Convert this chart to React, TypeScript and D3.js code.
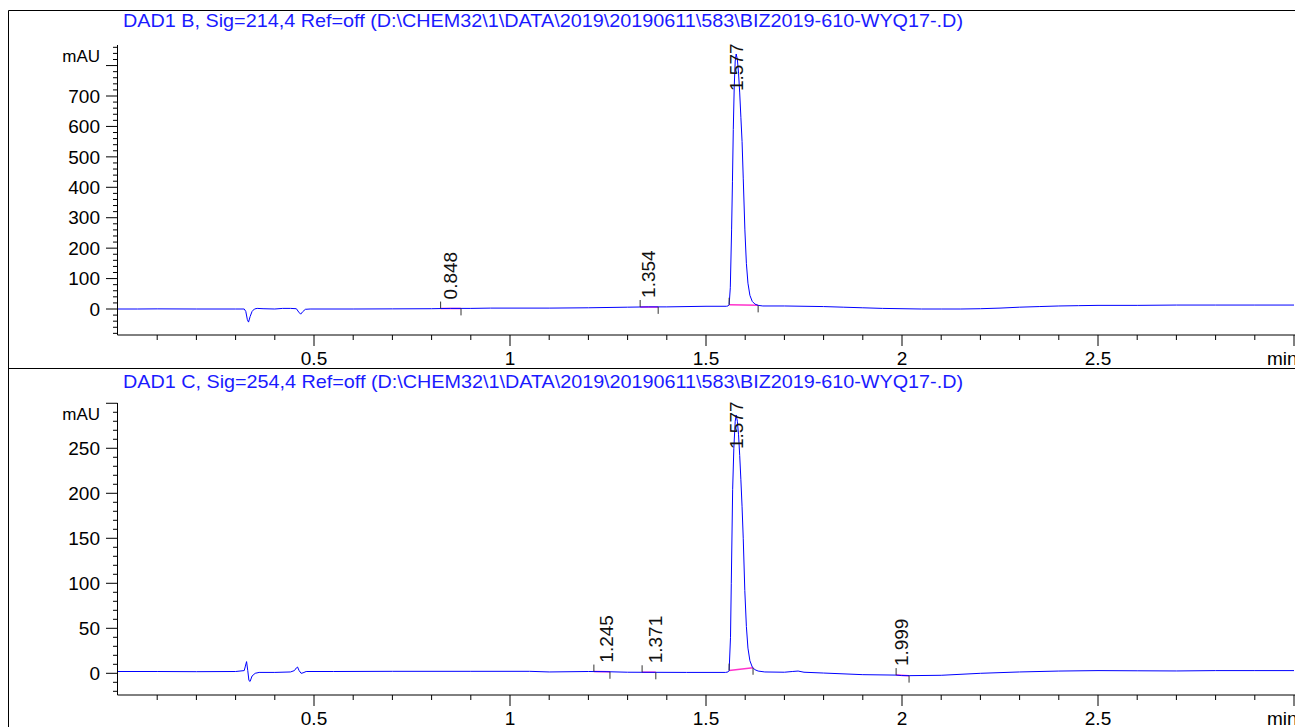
import React from "react";
import * as d3 from "d3";

// ---- data ----
const topTitle = "DAD1 B, Sig=214,4 Ref=off (D:\\CHEM32\\1\\DATA\\2019\\20190611\\583\\BIZ2019-610-WYQ17-.D)";
const bottomTitle = "DAD1 C, Sig=254,4 Ref=off (D:\\CHEM32\\1\\DATA\\2019\\20190611\\583\\BIZ2019-610-WYQ17-.D)";

const xTickLabels = [0.5, 1, 1.5, 2, 2.5];

const topYLabels = [0, 100, 200, 300, 400, 500, 600, 700];
const bottomYLabels = [0, 50, 100, 150, 200, 250];

// signal 214 nm: [time (min), mAU]
const topSignal: [number, number][] = [
  [0, 0], [0.05, 0], [0.1, 0.5], [0.2, 0], [0.3, 0], [0.322, 0], [0.326, -8], [0.33, -35], [0.333, -43],
  [0.337, -25], [0.342, -8], [0.348, 0], [0.355, 2], [0.37, 1], [0.4, 0], [0.42, 2], [0.44, 2], [0.455, 1],
  [0.461, -10], [0.466, -17], [0.471, -9], [0.478, -1], [0.49, 0], [0.6, 0], [0.7, 0.5], [0.8, 1], [0.848, 2],
  [0.9, 2], [0.95, 3], [1.0, 3], [1.1, 3], [1.2, 4], [1.3, 6], [1.354, 7], [1.4, 7], [1.5, 9], [1.552, 9],
  [1.556, 10], [1.559, 14], [1.562, 70], [1.5653, 260], [1.5675, 420], [1.5696, 590], [1.572, 730],
  [1.5745, 815], [1.577, 838], [1.58, 820], [1.583, 775], [1.586, 710], [1.589, 630], [1.592, 550],
  [1.595, 430], [1.5992, 260], [1.603, 150], [1.607, 85], [1.612, 45], [1.618, 25], [1.625, 16], [1.633, 12],
  [1.645, 10], [1.7, 10], [1.75, 9], [1.8, 8], [1.85, 6], [1.9, 4], [1.95, 2], [2.0, 1], [2.05, 0], [2.1, 0],
  [2.15, 0], [2.2, 1], [2.25, 3], [2.3, 6], [2.35, 8], [2.4, 10], [2.45, 11], [2.5, 12], [2.6, 12], [2.7, 13],
  [2.8, 13], [2.9, 13], [3.0, 13],
];

// signal 254 nm: [time (min), mAU]
const bottomSignal: [number, number][] = [
  [0, 2], [0.1, 2], [0.2, 1.8], [0.3, 2], [0.322, 3], [0.325, 8], [0.328, 13], [0.331, 3], [0.334, -8],
  [0.337, -9], [0.342, -3], [0.35, 0], [0.36, 1], [0.4, 1], [0.44, 1.5], [0.45, 3], [0.455, 6], [0.458, 7],
  [0.462, 3], [0.467, 0], [0.472, 0.5], [0.48, 2], [0.55, 2], [0.7, 2.2], [0.9, 2.2], [1.05, 2.2], [1.1, 1.5],
  [1.2, 2], [1.245, 1.8], [1.3, 1.2], [1.371, 1.1], [1.45, 1], [1.55, 1], [1.556, 1.5], [1.559, 3],
  [1.5625, 40], [1.5645, 100], [1.568, 204], [1.571, 250], [1.5745, 280], [1.577, 287], [1.58, 280],
  [1.583, 265], [1.586, 242], [1.589, 215], [1.592, 185], [1.595, 150], [1.599, 92], [1.603, 52],
  [1.607, 28], [1.612, 14], [1.618, 7], [1.625, 4], [1.633, 2.5], [1.65, 1.5], [1.7, 1.2], [1.72, 2],
  [1.735, 2.5], [1.75, 1.2], [1.8, 0.3], [1.9, -1.5], [1.985, -2], [1.999, -2.5], [2.02, -2.6], [2.1, -2.2],
  [2.2, 0], [2.3, 1.5], [2.4, 2.5], [2.5, 3], [2.6, 2.8], [2.7, 2.6], [2.8, 3], [2.9, 3], [3.0, 3],
];

// integrated peaks: retention time, baseline start, baseline end
const topPeakRT = [0.848, 1.354, 1.577];
const topPeakStart = [0.823, 1.332, 1.559];
const topPeakEnd = [0.875, 1.378, 1.633];

const bottomPeakRT = [1.245, 1.371, 1.577, 1.999];
const bottomPeakStart = [1.214, 1.337, 1.559, 1.985];
const bottomPeakEnd = [1.255, 1.372, 1.62, 2.018];

const FONT = "'Liberation Sans', Arial, sans-serif";
const W = 1295;
const H = 727;

type PanelProps = {
  title: string;
  signal: [number, number][];
  yDomain: [number, number];
  yRange: [number, number];
  yLabels: number[];
  yMajor: number;
  yMinor: number;
  rts: number[];
  starts: number[];
  ends: number[];
  titleY: number;
};

function Panel(p: PanelProps) {
  const x = d3.scaleLinear().domain([0, 3]).range([118, 1294]);
  const y = d3.scaleLinear().domain(p.yDomain).range(p.yRange);
  const axisX = 117.5;
  const axisY = p.yRange[0];
  const top = p.yRange[1];

  const line = d3
    .line<[number, number]>()
    .x((d) => x(d[0]))
    .y((d) => y(d[1]));

  const bis = d3.bisector((d: [number, number]) => d[0]).left;
  const valueAt = (t: number) => {
    const i = Math.max(1, Math.min(p.signal.length - 1, bis(p.signal, t)));
    const a = p.signal[i - 1];
    const b = p.signal[i];
    const k = (t - a[0]) / (b[0] - a[0]);
    return a[1] + (b[1] - a[1]) * k;
  };
  const peakMax = (s: number, e: number) => {
    let m = -Infinity;
    for (const d of p.signal) if (d[0] >= s && d[0] <= e) m = Math.max(m, d[1]);
    return m;
  };

  const yMinorTicks: number[] = [];
  const lo = Math.ceil(p.yDomain[0] / p.yMinor) * p.yMinor;
  for (let v = lo; v <= p.yDomain[1] + 1e-9; v += p.yMinor) yMinorTicks.push(Math.round(v * 1000) / 1000);
  const xTicks = d3.range(1, 31).map((i) => i / 10);

  const labelLen = 46;

  return (
    <g>
      <text x={123} y={p.titleY} fill="#1a1aff" fontSize={19} fontFamily={FONT} textLength={840} lengthAdjust="spacingAndGlyphs">
        {p.title}
      </text>
      {/* y axis */}
      <line x1={axisX} x2={axisX} y1={top} y2={axisY} stroke="#000" strokeWidth={1} />
      {yMinorTicks.map((v) => {
        const major = Math.abs(v / p.yMajor - Math.round(v / p.yMajor)) < 1e-6;
        return (
          <line key={"yt" + v} x1={major ? 106 : 113} x2={axisX} y1={y(v)} y2={y(v)} stroke="#000" strokeWidth={1} />
        );
      })}
      {p.yLabels.map((v) => (
        <text key={"yl" + v} x={100} y={y(v)} dy="0.35em" textAnchor="end" fontSize={19} fontFamily={FONT} fill="#000">
          {v}
        </text>
      ))}
      <text x={100} y={top + 17} textAnchor="end" fontSize={17} fontFamily={FONT} fill="#000">
        mAU
      </text>
      {/* x axis */}
      <line x1={axisX} x2={W} y1={axisY} y2={axisY} stroke="#000" strokeWidth={1} />
      {xTicks.map((t) => {
        const major = Math.abs(t * 2 - Math.round(t * 2)) < 1e-6;
        return (
          <line key={"xt" + t} x1={x(t)} x2={x(t)} y1={axisY} y2={axisY + (major ? 11 : 5)} stroke="#000" strokeWidth={1} />
        );
      })}
      {xTickLabels.map((t) => (
        <text key={"xl" + t} x={x(t)} y={axisY + 30} textAnchor="middle" fontSize={19} fontFamily={FONT} fill="#000">
          {t}
        </text>
      ))}
      <text x={1267} y={axisY + 30} fontSize={19} fontFamily={FONT} fill="#000">
        min
      </text>
      {/* integration baselines */}
      {p.rts.map((rt, i) => {
        const s = p.starts[i];
        const e = p.ends[i];
        const ys = y(valueAt(s));
        const ye = y(valueAt(e));
        return (
          <g key={"pk" + rt}>
            <line x1={x(s)} x2={x(e)} y1={ys} y2={ye} stroke="#ff33cc" strokeWidth={1.5} />
          </g>
        );
      })}
      {/* signal */}
      <path d={line(p.signal) || ""} fill="none" stroke="#0000ff" strokeWidth={1} />
      {/* markers and labels */}
      {p.rts.map((rt, i) => {
        const s = p.starts[i];
        const e = p.ends[i];
        const ys = y(valueAt(s));
        const ye = y(valueAt(e));
        const apexY = y(peakMax(s - 0.005, e + 0.005));
        const ly = Math.max(apexY - 9, top + labelLen);
        return (
          <g key={"mk" + rt}>
            <line x1={x(s)} x2={x(s)} y1={ys} y2={ys - 7} stroke="#333" strokeWidth={1} />
            <line x1={x(e)} x2={x(e)} y1={ye} y2={ye + 7} stroke="#333" strokeWidth={1} />
            <text
              transform={`translate(${x(rt)},${ly}) rotate(-90)`}
              dy="0.35em"
              fontSize={19}
              fontFamily={FONT}
              fill="#111"
            >
              {rt.toFixed(3)}
            </text>
          </g>
        );
      })}
    </g>
  );
}

export default function App() {
  return (
    <svg
      width={W}
      height={H}
      viewBox={`0 0 ${W} ${H}`}
      style={{ position: "absolute", left: 0, top: 0, background: "#fff" }}
    >
      <rect x={0} y={0} width={W} height={H} fill="#fff" />
      {/* frames */}
      <line x1={8.5} x2={W} y1={10.5} y2={10.5} stroke="#000" strokeWidth={1} />
      <line x1={8.5} x2={8.5} y1={10.5} y2={H} stroke="#000" strokeWidth={1} />
      <line x1={8.5} x2={W} y1={368.5} y2={368.5} stroke="#000" strokeWidth={1} />
      <Panel
        title={topTitle}
        signal={topSignal}
        yDomain={[-85.4, 867.6]}
        yRange={[335, 45]}
        yLabels={topYLabels}
        yMajor={100}
        yMinor={20}
        rts={topPeakRT}
        starts={topPeakStart}
        ends={topPeakEnd}
        titleY={27}
      />
      <Panel
        title={bottomTitle}
        signal={bottomSignal}
        yDomain={[-24.1, 300.3]}
        yRange={[695, 403]}
        yLabels={bottomYLabels}
        yMajor={50}
        yMinor={10}
        rts={bottomPeakRT}
        starts={bottomPeakStart}
        ends={bottomPeakEnd}
        titleY={388}
      />
    </svg>
  );
}
